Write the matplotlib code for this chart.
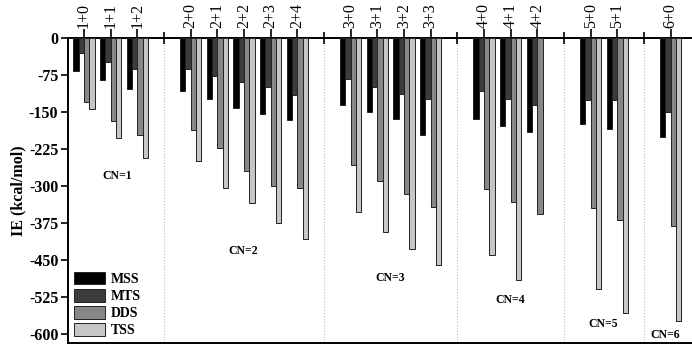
import numpy as np
import matplotlib
matplotlib.use('Agg')
import matplotlib.pyplot as plt

plt.rcParams['font.family'] = ['Liberation Serif', 'DejaVu Serif']

# dados
labels = ['1+0', '1+1', '1+2', '2+0', '2+1', '2+2', '2+3', '2+4', '3+0', '3+1',
          '3+2', '3+3', '4+0', '4+1', '4+2', '5+0', '5+1', '6+0']
cn = [1, 1, 1, 2, 2, 2, 2, 2, 3, 3, 3, 3, 4, 4, 4, 5, 5, 6]
mss = [-66, -86, -104, -107, -124, -141, -154, -167, -135, -149, -164, -196,
       -164, -178, -191, -175, -184, -201]
mts = [-31, -48, -63, -63, -76, -90, -100, -116, -83, -100, -113, -124,
       -107, -124, -136, -126, -126, -150]
dds = [-129, -168, -197, -187, -223, -269, -299, -303, -257, -289, -317, -343,
       -305, -332, -357, -344, -369, -381]
tss = [-143, -203, -244, -249, -304, -335, -374, -408, -353, -394, -428, -459,
       -440, -491, np.nan, -509, -558, -574]
series = ['MSS', 'MTS', 'DDS', 'TSS']
cores = ['#000000', '#3c3c3c', '#878787', '#c6c6c6']

# posicoes: um espaco vazio entre cada grupo CN
pos = np.arange(len(labels)) + np.array(cn) - 1
seps = [pos[i] - 1 for i in range(1, len(cn)) if cn[i] != cn[i - 1]]

fig = plt.figure(figsize=(6.92, 3.47), dpi=100)
ax = fig.add_axes([68/692, 4/347, 1 - 68/692, 305/347])

w = 0.2
for k, (vals, nome, cor) in enumerate(zip([mss, mts, dds, tss], series, cores)):
    ax.bar(pos + (k - 1.5) * w, vals, width=w, color=cor, edgecolor='#222222',
           linewidth=0.7, label=nome, zorder=3)

for s in seps:
    ax.axvline(s, color='#bbbbbb', linestyle=':', linewidth=0.8, zorder=1)

# rotulos CN
cn_x = [1.24, 5.96, 11.5, 15.98, 19.48, 21.78]
cn_y = [-280, -432, -486, -531, -580, -602]
for i in range(6):
    ax.text(cn_x[i], cn_y[i], 'CN=%d' % (i + 1), ha='center', va='center',
            fontsize=8.5, fontweight='bold')

ax.set_xlim(-0.6, 22.8)
ax.set_ylim(-618, 0)
ax.set_yticks(np.arange(0, -601, -75))
ax.set_yticklabels([str(v) for v in np.arange(0, -601, -75)], fontweight='bold', fontsize=11.5)
ax.tick_params(axis='y', direction='out', length=5, width=1.2, pad=2)

ax.xaxis.set_ticks_position('top')
ax.set_xticks(pos)
ax.set_xticklabels(labels, rotation=90, fontsize=11.5)
ax.set_xticks(seps, minor=True)
ax.tick_params(axis='x', which='major', direction='out', length=6.5, width=1.2, pad=1)
ax.tick_params(axis='x', which='minor', direction='inout', length=9, width=1.2)

ax.spines['right'].set_visible(False)
for sp in ['top', 'left', 'bottom']:
    ax.spines[sp].set_linewidth(1.4)

ax.set_ylabel('IE (kcal/mol)', fontsize=11.5, fontweight='bold', labelpad=2)

ax.legend(loc='lower left', frameon=False, prop={'weight': 'bold', 'size': 10},
          handlelength=2.3, handleheight=1.05, labelspacing=0.22,
          handletextpad=0.35, borderaxespad=0.2, borderpad=0.2)

plt.savefig('out.png', dpi=100)
